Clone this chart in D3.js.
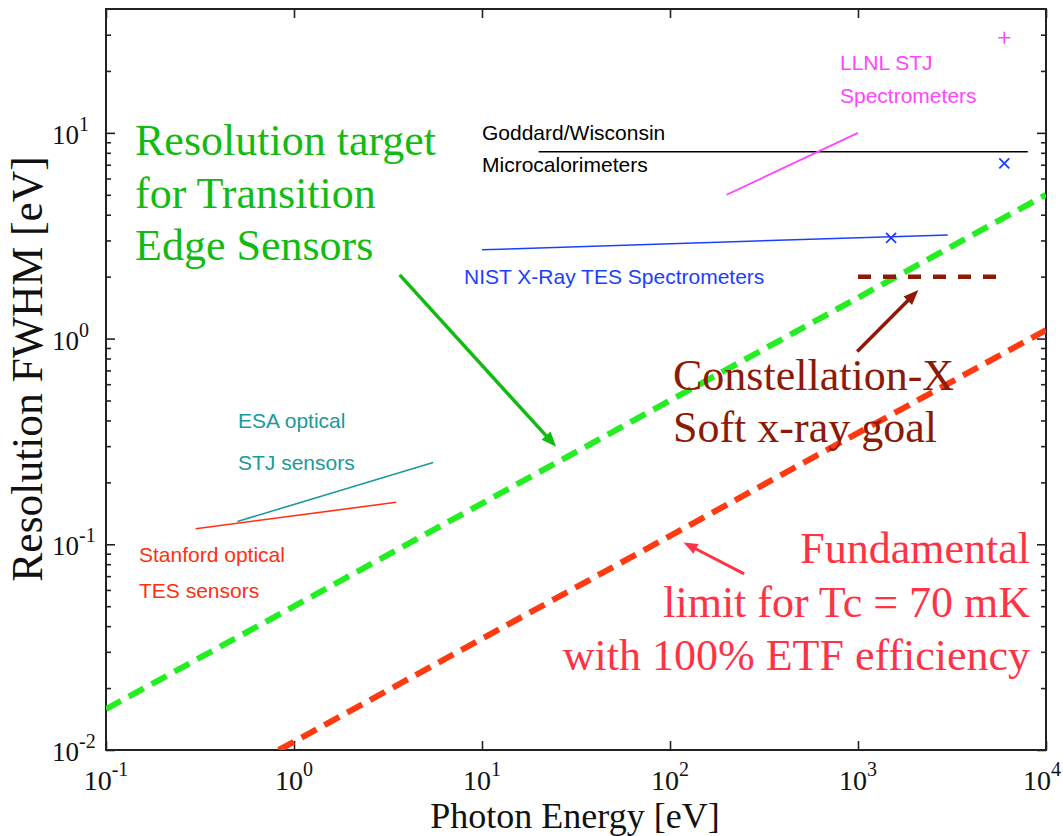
<!DOCTYPE html>
<html>
<head>
<meta charset="utf-8">
<title>Resolution vs Photon Energy</title>
<script src="https://d3js.org/d3.v7.min.js"></script>
<style>
  body { margin: 0; background: #fff; }
  .serif { font-family: "Liberation Serif", "DejaVu Serif", serif; }
  .sans { font-family: "Liberation Sans", Arial, sans-serif; }
</style>
</head>
<body>
<div id="chart"></div>
<script>
// ---- values (energy eV, FWHM eV) ----
var xTickExps = [-1, 0, 1, 2, 3, 4];
var yTickExps = [-2, -1, 0, 1];

var tesTarget = [[0.1, 0.0158], [10000, 5.0]];      // resolution target for TES
var fundLimit = [[0.83, 0.01], [10000, 1.1]];       // fundamental limit, Tc = 70 mK
var conXGoal = [[1000, 2.0], [5500, 2.0]];          // Constellation-X goal
var nistLine = [[10, 2.7], [3000, 3.19]];
var nistPoints = [[1500, 3.09], [6000, 7.1]];
var goddardLine = [[20, 8.1], [8000, 8.1]];
var llnlLine = [[200, 5.0], [1000, 10.0]];
var llnlPoints = [[6000, 29]];
var esaLine = [[0.5, 0.129], [5.5, 0.25]];
var stanfordLine = [[0.3, 0.119], [3.5, 0.16]];

// annotation arrows: [from, to]
var targetArrow = [[3.65, 2.04], [24.8, 0.298]];
var conXArrow = [[990, 0.865], [2095, 1.72]];
var limitArrow = [[248, 0.0718], [118, 0.102]];

// ---- layout ----
var W = 1063, H = 836;
var margin = { top: 9, right: 17, bottom: 86, left: 106 };
var width = W - margin.left - margin.right;
var height = H - margin.top - margin.bottom;

var svg = d3.select("#chart").append("svg")
    .attr("width", W)
    .attr("height", H);

var g = svg.append("g")
    .attr("transform", "translate(" + margin.left + "," + margin.top + ")");

var x = d3.scaleLog().domain([0.1, 10000]).range([0, width]);
var y = d3.scaleLog().domain([0.01, 40]).range([height, 0]);

var xMajor = xTickExps.map(function (e) { return Math.pow(10, e); });
var yMajor = yTickExps.map(function (e) { return Math.pow(10, e); });
var yMinor = [];
yTickExps.forEach(function (e) {
    for (var k = 2; k <= 9; k++) {
        var v = k * Math.pow(10, e);
        if (v < 40) yMinor.push(v);
    }
});

function tickAxis(axis, vals, size) {
    return axis.tickValues(vals).tickSizeInner(-size).tickSizeOuter(0).tickFormat("");
}

// inward ticks on all four sides
g.append("g").attr("transform", "translate(0," + height + ")")
    .call(tickAxis(d3.axisBottom(x), xMajor, 9));
g.append("g").call(tickAxis(d3.axisTop(x), xMajor, 9));
g.append("g").call(tickAxis(d3.axisLeft(y), yMajor, 9));
g.append("g").call(tickAxis(d3.axisLeft(y), yMinor, 5));
g.append("g").attr("transform", "translate(" + width + ",0)")
    .call(tickAxis(d3.axisRight(y), yMajor, 9));
g.append("g").attr("transform", "translate(" + width + ",0)")
    .call(tickAxis(d3.axisRight(y), yMinor, 5));
g.selectAll(".domain").remove();
g.selectAll(".tick line").attr("stroke", "#222").attr("stroke-width", 1.6);

g.append("rect")
    .attr("width", width).attr("height", height)
    .attr("fill", "none").attr("stroke", "#222").attr("stroke-width", 2);

// tick labels as 10^n
xTickExps.forEach(function (e, i) {
    var last = i === xTickExps.length - 1;
    var t = g.append("text").attr("class", "serif")
        .attr("x", x(Math.pow(10, e)) - (last ? 4 : 0)).attr("y", height + 40)
        .attr("text-anchor", "middle").attr("font-size", 28).attr("fill", "#111");
    t.append("tspan").text("10");
    t.append("tspan").attr("dy", -14).attr("font-size", 20).text(e);
});
yTickExps.forEach(function (e) {
    var t = g.append("text").attr("class", "serif")
        .attr("x", -54).attr("y", y(Math.pow(10, e)) + 11)
        .attr("font-size", 27).attr("fill", "#111");
    t.append("tspan").text("10");
    t.append("tspan").attr("dy", -13).attr("font-size", 20).text(e);
});

// axis titles
svg.append("text").attr("class", "serif")
    .attr("x", 575).attr("y", 828).attr("text-anchor", "middle")
    .attr("font-size", 36).attr("fill", "#111")
    .text("Photon Energy [eV]");
svg.append("text").attr("class", "serif")
    .attr("transform", "translate(42,369) rotate(-90)")
    .attr("text-anchor", "middle").attr("font-size", 43.5).attr("fill", "#111")
    .text("Resolution FWHM [eV]");

// ---- series ----
g.append("clipPath").attr("id", "plotClip")
    .append("rect").attr("width", width).attr("height", height);

var line = d3.line()
    .x(function (d) { return x(d[0]); })
    .y(function (d) { return y(d[1]); });

var plot = g.append("g").attr("clip-path", "url(#plotClip)");

function drawLine(data, color, w, dash) {
    plot.append("path").datum(data)
        .attr("d", line)
        .attr("fill", "none")
        .attr("stroke", color)
        .attr("stroke-width", w)
        .attr("stroke-dasharray", dash || null);
}

drawLine(goddardLine, "#000", 1.5);
drawLine(llnlLine, "#ff44ff", 1.8);
drawLine(nistLine, "#1a40ff", 1.5);
drawLine(esaLine, "#1a9a9a", 1.6);
drawLine(stanfordLine, "#ff3010", 1.6);
drawLine(tesTarget, "#22ee22", 6, "17,9");
drawLine(fundLimit, "#ff3a10", 6, "17,9");
drawLine(conXGoal, "#8c1a06", 4.5, "13,12");

// markers
plot.selectAll(".xmark").data(nistPoints).enter().append("path")
    .attr("class", "xmark")
    .attr("transform", function (d) { return "translate(" + x(d[0]) + "," + y(d[1]) + ")"; })
    .attr("d", "M-5,-5L5,5M-5,5L5,-5")
    .attr("stroke", "#1a40ff").attr("stroke-width", 1.8);
plot.selectAll(".pmark").data(llnlPoints).enter().append("path")
    .attr("class", "pmark")
    .attr("transform", function (d) { return "translate(" + x(d[0]) + "," + y(d[1]) + ")"; })
    .attr("d", "M-6,0L6,0M0,-6L0,6")
    .attr("stroke", "#ff44ff").attr("stroke-width", 1.6);

// arrows
function drawArrow(a, color, w, headL, headW) {
    var x0 = x(a[0][0]), y0 = y(a[0][1]);
    var x1 = x(a[1][0]), y1 = y(a[1][1]);
    var ang = Math.atan2(y1 - y0, x1 - x0);
    var ux = Math.cos(ang), uy = Math.sin(ang);
    var bx = x1 - ux * headL, by = y1 - uy * headL;
    g.append("line")
        .attr("x1", x0).attr("y1", y0).attr("x2", bx + ux * 2).attr("y2", by + uy * 2)
        .attr("stroke", color).attr("stroke-width", w);
    g.append("path")
        .attr("d", "M" + x1 + "," + y1 +
            "L" + (bx - uy * headW / 2) + "," + (by + ux * headW / 2) +
            "L" + (bx + uy * headW / 2) + "," + (by - ux * headW / 2) + "Z")
        .attr("fill", color);
}
drawArrow(targetArrow, "#11bb11", 3.5, 15, 12);
drawArrow(conXArrow, "#8c1a06", 3.5, 15, 12);
drawArrow(limitArrow, "#ff3344", 3, 14, 11);

// ---- annotation text ----
function label(lines, xp, y0, dy, size, color, cls, anchor) {
    lines.forEach(function (s, i) {
        svg.append("text").attr("class", cls)
            .attr("x", xp).attr("y", y0 + i * dy)
            .attr("font-size", size).attr("fill", color)
            .attr("text-anchor", anchor || "start")
            .text(s);
    });
}

label(["Resolution target", "for Transition", "Edge Sensors"], 135, 155, 52.5, 44, "#11bb11", "serif");
label(["Constellation-X", "Soft x-ray goal"], 673, 390, 52, 44, "#8c1a06", "serif");
label(["Fundamental", "limit for Tc = 70 mK", "with 100% ETF efficiency"], 1030, 563, 53.5, 44, "#ff3344", "serif", "end");

label(["Goddard/Wisconsin", "Microcalorimeters"], 482, 140, 32, 21, "#000", "sans");
label(["NIST X-Ray TES Spectrometers"], 464, 284, 0, 21, "#1a40ff", "sans");
label(["LLNL STJ", "Spectrometers"], 840, 70, 33, 21, "#ff44ff", "sans");
label(["ESA optical", "STJ sensors"], 238, 428, 42, 21, "#1a9a9a", "sans");
label(["Stanford optical", "TES sensors"], 139, 562, 35.5, 21, "#ff3010", "sans");
</script>
</body>
</html>
